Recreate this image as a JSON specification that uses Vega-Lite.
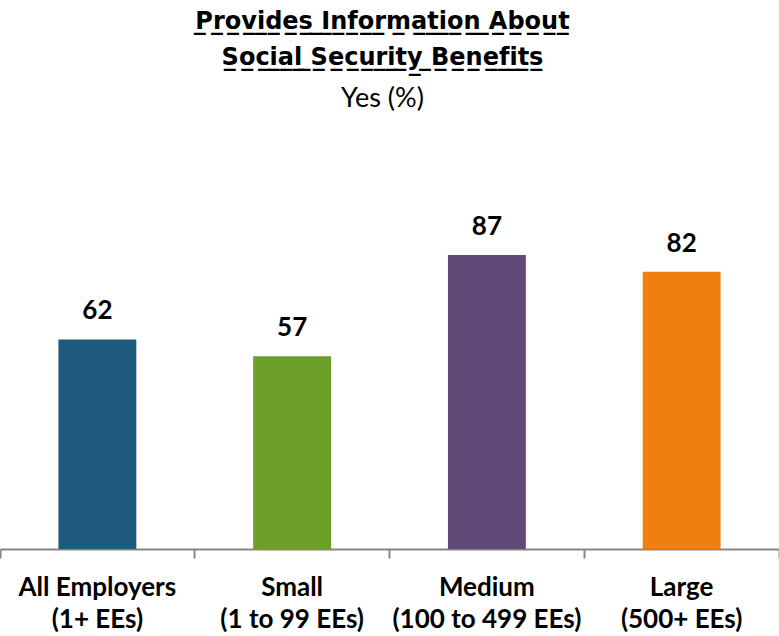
{
  "$schema": "https://vega.github.io/schema/vega-lite/v6.json",
  "autosize": "none",
  "width": 779,
  "height": 338,
  "padding": {"left": 0, "right": 0, "top": 211, "bottom": 87},
  "background": "white",
  "config": {"view": {"stroke": null}, "font": "Lato"},
  "title": {
    "text": ["P\u0332r\u0332o\u0332v\u0332i\u0332d\u0332e\u0332s\u0332 \u0332I\u0332n\u0332f\u0332o\u0332r\u0332m\u0332a\u0332t\u0332i\u0332o\u0332n\u0332 \u0332A\u0332b\u0332o\u0332u\u0332t\u0332", "S\u0332o\u0332c\u0332i\u0332a\u0332l\u0332 \u0332S\u0332e\u0332c\u0332u\u0332r\u0332i\u0332t\u0332y\u0332 \u0332B\u0332e\u0332n\u0332e\u0332f\u0332i\u0332t\u0332s\u0332"],
    "subtitle": "Yes (%)",
    "anchor": "middle",
    "frame": "group",
    "dx": -7,
    "font": "DejaVu Sans",
    "fontSize": 24,
    "fontWeight": "bold",
    "color": "black",
    "lineHeight": 36,
    "subtitleFont": "Lato",
    "subtitleFontSize": 27,
    "subtitleFontWeight": "normal",
    "subtitleColor": "black",
    "subtitlePadding": 16,
    "offset": 99,
    "limit": 0
  },
  "data": {
    "values": [
      {"group": "All Employers\n(1+ EEs)", "value": 62},
      {"group": "Small\n(1 to 99 EEs)", "value": 57},
      {"group": "Medium\n(100 to 499 EEs)", "value": 87},
      {"group": "Large\n(500+ EEs)", "value": 82}
    ]
  },
  "encoding": {
    "y": {"field": "value", "type": "quantitative", "scale": {"domain": [0, 100]}, "axis": null}
  },
  "layer": [
    {
      "mark": {"type": "bar", "width": {"band": 0.4}},
      "encoding": {
        "x": {
          "field": "group", "type": "nominal", "sort": null,
          "scale": {"paddingInner": 0, "paddingOuter": 0},
          "axis": {
            "orient": "bottom", "title": null, "labelAngle": 0,
            "labelExpr": "split(datum.label, '\\n')",
            "ticks": false, "domain": false, "labelLimit": 0,
            "labelFontSize": 26, "labelFontWeight": "bold", "labelColor": "black",
            "labelPadding": 25, "labelLineHeight": 32
          }
        },
        "color": {
          "field": "group", "type": "nominal", "sort": null, "legend": null,
          "scale": {"range": ["#1d5a7e", "#6b9f28", "#614978", "#ef7f0f"]}
        }
      }
    },
    {
      "mark": {"type": "text", "fontSize": 26, "fontWeight": "bold", "color": "black", "baseline": "alphabetic", "dy": -20},
      "encoding": {
        "x": {
          "field": "group", "type": "nominal", "sort": null,
          "axis": {
            "orient": "bottom", "title": null, "labels": false,
            "bandPosition": 1, "tickExtra": true,
            "tickSize": 9, "tickColor": "#868686", "tickWidth": 2,
            "domainColor": "#868686", "domainWidth": 2
          }
        },
        "text": {"field": "value", "type": "quantitative"}
      }
    }
  ],
  "resolve": {"axis": {"x": "independent"}}
}
